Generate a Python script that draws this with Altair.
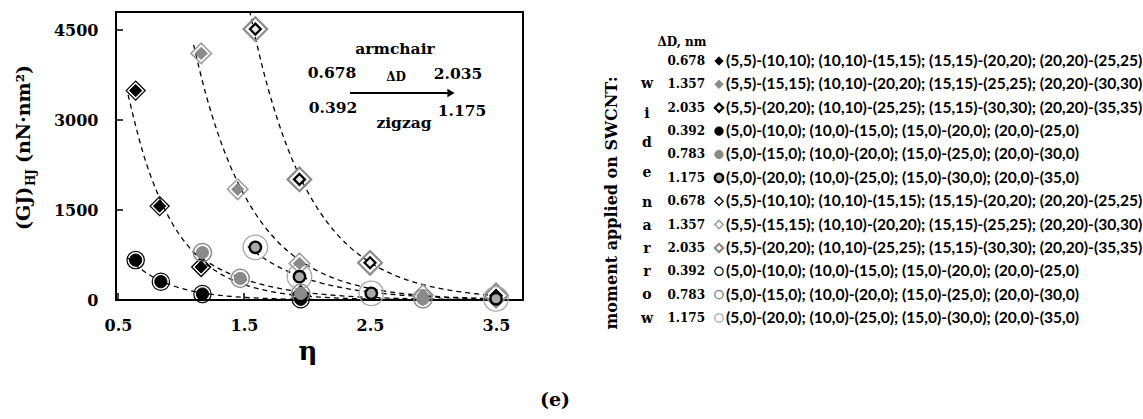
import altair as alt
import pandas as pd

# (GJ)_HJ in nN·nm² against η, one series per diameter step ΔD (nm)
eta_arm_0678 = [0.64, 0.83, 1.16, 1.95]
gj_arm_0678 = [3490, 1565, 550, 80]
eta_arm_1357 = [1.16, 1.45, 1.94, 2.92]
gj_arm_1357 = [4110, 1845, 610, 80]
eta_arm_2035 = [1.59, 1.94, 2.50, 3.50]
gj_arm_2035 = [4515, 2010, 620, 75]
eta_zig_0392 = [0.64, 0.84, 1.17, 1.95]
gj_zig_0392 = [665, 305, 100, 12]
eta_zig_0783 = [1.17, 1.47, 1.95, 2.92]
gj_zig_0783 = [790, 360, 110, 20]
eta_zig_1175 = [1.59, 1.94, 2.51, 3.50]
gj_zig_1175 = [878, 388, 111, 20]

delta_d = ["0.678", "1.357", "2.035", "0.392", "0.783", "1.175"]
tube_pairs = [
    "(5,5)-(10,10); (10,10)-(15,15); (15,15)-(20,20); (20,20)-(25,25)",
    "(5,5)-(15,15); (10,10)-(20,20); (15,15)-(25,25); (20,20)-(30,30)",
    "(5,5)-(20,20); (10,10)-(25,25); (15,15)-(30,30); (20,20)-(35,35)",
    "(5,0)-(10,0); (10,0)-(15,0); (15,0)-(20,0); (20,0)-(25,0)",
    "(5,0)-(15,0); (10,0)-(20,0); (15,0)-(25,0); (20,0)-(30,0)",
    "(5,0)-(20,0); (10,0)-(25,0); (15,0)-(30,0); (20,0)-(35,0)",
]
x_ticks = [0.5, 1.5, 2.5, 3.5]
y_ticks = [0, 1500, 3000, 4500]

etas = [eta_arm_0678, eta_arm_1357, eta_arm_2035, eta_zig_0392, eta_zig_0783, eta_zig_1175]
gjs = [gj_arm_0678, gj_arm_1357, gj_arm_2035, gj_zig_0392, gj_zig_0783, gj_zig_1175]

wide_keys = ["wide " + d for d in delta_d]
narrow_keys = ["narrow " + d for d in delta_d]
keys = wide_keys + narrow_keys

# marker styles: filled for the wide moment, hollow and larger for the narrow one
shapes = ["diamond"] * 3 + ["circle"] * 3 + ["diamond"] * 3 + ["circle"] * 3
fills = ["#000000", "#8a8a8a", "#ececec", "#000000", "#8a8a8a", "#a8a8a8"] + ["transparent"] * 6
strokes = ["#000000", "#8a8a8a", "#000000", "#000000", "#8a8a8a", "#000000",
           "#000000", "#a0a0a0", "#8c8c8c", "#000000", "#8c8c8c", "#a8a8a8"]
widths = [1, 1, 2.2, 1, 1, 2.4, 1.3, 1.6, 2.2, 1.2, 1.5, 1.3]
sizes = [150, 150, 120, 150, 150, 130, 360, 420, 560, 300, 330, 600]

rows = []
for order, group in enumerate([narrow_keys, wide_keys]):
    for key, eta, gj in zip(group, etas, gjs):
        for e, g in zip(eta, gj):
            rows.append({"series": key, "eta": e, "gj": g, "draw": order})
points = pd.DataFrame(rows)

SERIF = "DejaVu Serif"
SANS = "Lato"

xs = alt.Scale(domain=[0.484, 3.714], nice=False, zero=False)
ys = alt.Scale(domain=[0, 4800], nice=False, zero=False)

x_axis = alt.Axis(values=x_ticks, format=".1f", title=None, grid=False, domain=False,
                  ticks=False, tickSize=0, labelPadding=17, labelFont=SERIF,
                  labelFontWeight="bold", labelFontSize=16, labelColor="black")
y_axis = alt.Axis(values=y_ticks, format="d", title=None, grid=False, domain=False,
                  ticks=False, tickSize=0, labelPadding=18, labelFont=SERIF,
                  labelFontWeight="bold", labelFontSize=16, labelColor="black")

shape_ch = alt.Shape("series:N", scale=alt.Scale(domain=keys, range=shapes), legend=None)
fill_ch = alt.Fill("series:N", scale=alt.Scale(domain=keys, range=fills), legend=None)
stroke_ch = alt.Stroke("series:N", scale=alt.Scale(domain=keys, range=strokes), legend=None)
width_ch = alt.StrokeWidth("series:N", scale=alt.Scale(type="ordinal", domain=keys, range=widths),
                           legend=None)

markers = alt.Chart(points).mark_point(filled=True, opacity=1).encode(
    x=alt.X("eta:Q", scale=xs, axis=x_axis),
    y=alt.Y("gj:Q", scale=ys, axis=y_axis),
    shape=shape_ch,
    fill=fill_ch,
    stroke=stroke_ch,
    strokeWidth=width_ch,
    size=alt.Size("series:N", scale=alt.Scale(type="ordinal", domain=keys, range=sizes),
                  legend=None),
    order=alt.Order("draw:Q"),
)

# exponential trend line for each wide series: straight-line fit of ln(GJ) on η
curves = []
for key, eta in zip(wide_keys, etas):
    curves.append(
        alt.Chart(points)
        .transform_filter(alt.datum.series == key)
        .transform_calculate(lny="log(datum.gj)")
        .transform_regression("eta", "lny", method="poly", order=1,
                              extent=[min(eta) - 0.06, 3.5])
        .transform_calculate(fit="exp(datum.lny)")
        .mark_line(color="black", strokeWidth=1.3, strokeDash=[5, 4], clip=True,
                   interpolate="monotone")
        .encode(x=alt.X("eta:Q", scale=xs), y=alt.Y("fit:Q", scale=ys))
    )

# inward tick marks
xt = alt.Chart(pd.DataFrame({"t": x_ticks})).mark_rule(color="black", strokeWidth=1.5).encode(
    x=alt.X("t:Q", scale=xs), y=alt.value(288), y2=alt.value(281))
yt = alt.Chart(pd.DataFrame({"t": y_ticks[1:]})).mark_rule(color="black", strokeWidth=1.5).encode(
    y=alt.Y("t:Q", scale=ys), x=alt.value(0), x2=alt.value(7))

one = pd.DataFrame({"a": [0]})


def label(text, x, y, size, font=SERIF, weight="bold", align="center",
          baseline="middle", angle=0):
    return alt.Chart(one).mark_text(
        text=text, font=font, fontWeight=weight, fontSize=size, align=align,
        baseline=baseline, angle=angle, color="black"
    ).encode(x=alt.value(x), y=alt.value(y))


texts = [
    label("armchair", 279, 37, 15.5),
    label("0.678", 216, 61, 15.5),
    label("ΔD", 280, 65, 12),
    label("2.035", 342, 62, 15.5),
    label("0.392", 217, 96, 15.5),
    label("1.175", 346, 99, 15.5),
    label("zigzag", 288, 111, 15.5),
    # y-axis title built from pieces for the subscript
    label("(GJ)", -86, 218, 19, align="left", baseline="alphabetic", angle=270),
    label("HJ", -81, 174, 12, align="left", baseline="alphabetic", angle=270),
    label("(nN·nm²)", -86, 53, 19, align="right", baseline="alphabetic", angle=270),
    label("η", 192, 340, 26),
    label("(e)", 439, 388, 19),
    # legend heading texts
    label("moment applied on SWCNT:", 496, 191, 16, angle=270),
    label("ΔD, nm", 566, 30, 12),
]
# the words "wide" and "narrow" written down the legend, one letter per line
for i, ch in enumerate("wide"):
    texts.append(label(ch, 531, 72 + i * 29.7, 14))
for i, ch in enumerate("narrow"):
    texts.append(label(ch, 531, 191 + i * 23.1, 14))

arrow_line = alt.Chart(one).mark_rule(color="black", strokeWidth=2).encode(
    x=alt.value(234), x2=alt.value(333), y=alt.value(81))
arrow_head = alt.Chart(one).mark_point(shape="triangle-right", filled=True, color="black",
                                       size=70, opacity=1).encode(
    x=alt.value(335), y=alt.value(81))

main = alt.layer(xt, yt, *curves, markers, arrow_line, arrow_head, *texts)

legend_df = pd.DataFrame({
    "row": list(range(12)),
    "series": keys,
    "dd": delta_d * 2,
    "pairs": tube_pairs * 2,
})
row_y = alt.Y("row:O", scale=alt.Scale(type="point", domain=list(range(12)), range=[49, 306],
                                         padding=0), axis=None)
leg_sym = alt.Chart(legend_df).mark_point(filled=True, opacity=1, size=70).encode(
    x=alt.value(603), y=row_y, shape=shape_ch, fill=fill_ch, stroke=stroke_ch,
    strokeWidth=width_ch)
leg_dd = alt.Chart(legend_df).mark_text(font=SERIF, fontWeight="bold", fontSize=12,
                                        align="right", baseline="middle", color="black").encode(
    x=alt.value(589), y=row_y, text="dd:N")
leg_pairs = alt.Chart(legend_df).mark_text(font=SANS, fontWeight="bold", fontSize=15.6,
                                           align="left", baseline="middle", color="black").encode(
    x=alt.value(610), y=row_y, text="pairs:N")
legend = alt.layer(leg_sym, leg_dd, leg_pairs)

chart = (
    alt.layer(main, legend)
    .resolve_scale(y="independent")
    .properties(width=407, height=288, autosize="none",
                padding={"left": 116, "top": 12, "right": 620, "bottom": 119},
                background="white")
    .configure_view(stroke="black", strokeWidth=2)
)

chart.save("out.html", embed_options={"renderer": "svg", "actions": False})
